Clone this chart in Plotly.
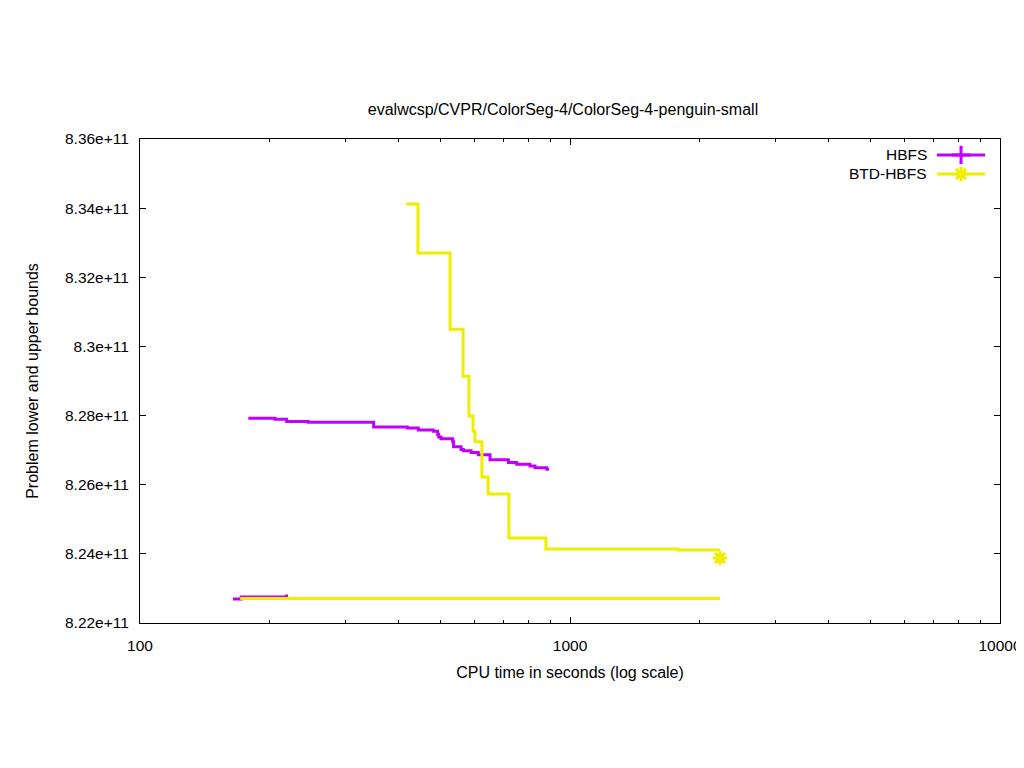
import plotly.graph_objects as go

# ---- data (values in units of 1e11) ----
hbfs_ub_t = [178.6, 206, 219.3, 246.3, 349.4, 418.4, 443.9, 481, 492.4, 495, 501, 533.6, 536,
             558, 565, 588.7, 612, 651.6, 719, 751.6, 807, 829, 883, 894]
hbfs_ub_v = [8.2792, 8.2789, 8.2783, 8.2781, 8.2767, 8.2764, 8.2758, 8.2755, 8.2745, 8.2738,
             8.2733, 8.2724, 8.2710, 8.2702, 8.2698, 8.2693, 8.2687, 8.2672, 8.2664, 8.2659,
             8.2654, 8.2649, 8.2645, 8.2645]
hbfs_lb_t = [164.5, 172, 219, 221]
hbfs_lb_v = [8.22694, 8.22752, 8.2278, 8.2278]

btd_ub_t = [415.6, 443, 526, 564, 582, 595, 601, 624, 645, 721, 879, 1783, 2233]
btd_ub_v = [8.3412, 8.327, 8.305, 8.2914, 8.2799, 8.2755, 8.2724, 8.2622, 8.2573, 8.2446,
            8.2414, 8.2411, 8.2411]
btd_lb_t = [171, 2233]
btd_lb_v = [8.22709, 8.22709]
btd_final_t = [2233]
btd_final_v = [8.2388]

y_tick_vals = [8.22, 8.24, 8.26, 8.28, 8.30, 8.32, 8.34, 8.36]
y_tick_text = ["8.22e+11", "8.24e+11", "8.26e+11", "8.28e+11", "8.3e+11", "8.32e+11", "8.34e+11", "8.36e+11"]
x_tick_vals = [100, 1000, 10000]
x_tick_text = ["100", "1000", "10000"]
x_minor_vals = [200, 300, 400, 500, 600, 700, 800, 900, 2000, 3000, 4000, 5000, 6000, 7000, 8000, 9000]

title = "evalwcsp/CVPR/ColorSeg-4/ColorSeg-4-penguin-small"
series_names = ["HBFS", "BTD-HBFS"]

PURPLE = "#c000ff"
YELLOW = "#eeee00"
FONT = "Liberation Sans, Arial, sans-serif"
TICKSIZE = 15.5
TITLESIZE = 16

# the page body has an 8px margin, so the figure is placed at (8, 8)
W, H = 1016, 752

def sc(v):
    return [x * 1e11 for x in v]

fig = go.Figure()
fig.add_trace(go.Scatter(x=hbfs_ub_t, y=sc(hbfs_ub_v), mode="lines", line=dict(color=PURPLE, width=3, shape="hv"), showlegend=False))
fig.add_trace(go.Scatter(x=hbfs_lb_t, y=sc(hbfs_lb_v), mode="lines", line=dict(color=PURPLE, width=3, shape="hv"), showlegend=False))
fig.add_trace(go.Scatter(x=btd_ub_t, y=sc(btd_ub_v), mode="lines", line=dict(color=YELLOW, width=3, shape="hv"), showlegend=False))
fig.add_trace(go.Scatter(x=btd_lb_t, y=sc(btd_lb_v), mode="lines", line=dict(color=YELLOW, width=3, shape="hv"), showlegend=False))
fig.add_trace(go.Scatter(x=btd_final_t, y=sc(btd_final_v), mode="markers",
                         marker=dict(symbol="asterisk-open", size=12, color=YELLOW, line=dict(color=YELLOW, width=3)),
                         showlegend=False))

# custom gnuplot-style legend (text left of sample) on an overlay paper axis
leg_y = [0.967, 0.9277]
leg_colors = [PURPLE, YELLOW]
leg_symbols = ["cross-thin-open", "asterisk-open"]
leg_sizes = [13, 12]
for name, ly, col, sym, sz in zip(series_names, leg_y, leg_colors, leg_symbols, leg_sizes):
    fig.add_trace(go.Scatter(x=[0.9267, 0.9826], y=[ly, ly], mode="lines", line=dict(color=col, width=3),
                             xaxis="x2", yaxis="y2", showlegend=False, hoverinfo="skip"))
    fig.add_trace(go.Scatter(x=[0.9547], y=[ly], mode="markers",
                             marker=dict(symbol=sym, size=sz, color=col, line=dict(color=col, width=3)),
                             xaxis="x2", yaxis="y2", showlegend=False, hoverinfo="skip"))
    fig.add_annotation(x=0.9175, y=ly, xref="paper", yref="paper", text=name, showarrow=False,
                       xanchor="right", yanchor="middle", font=dict(family=FONT, size=TICKSIZE, color="black"))

fig.update_layout(
    width=W, height=H,
    margin=dict(l=132, r=24, t=131, b=137, autoexpand=False),
    paper_bgcolor="white", plot_bgcolor="white",
    font=dict(family=FONT, size=TICKSIZE, color="black"),
    title=dict(text=title, x=(563 - 8) / W, xanchor="center", y=1 - (109 - 8) / H, yanchor="middle",
               font=dict(family=FONT, size=TITLESIZE, color="black")),
    showlegend=False,
    xaxis=dict(type="log", range=[2, 4], tickvals=x_tick_vals, ticktext=x_tick_text,
               ticks="inside", ticklen=6, tickwidth=1, tickcolor="black", ticklabelstandoff=8,
               ticklabeloverflow="allow",
               showline=True, linecolor="black", linewidth=1, mirror="allticks",
               showgrid=False, zeroline=False, automargin=False,
               minor=dict(tickvals=x_minor_vals, ticks="inside", ticklen=3, tickcolor="black", showgrid=False),
               title=dict(text="CPU time in seconds (log scale)", standoff=14, font=dict(family=FONT, size=TITLESIZE))),
    yaxis=dict(range=[8.22e11, 8.36e11], tickvals=sc(y_tick_vals), ticktext=y_tick_text,
               ticks="inside", ticklen=6, tickwidth=1, tickcolor="black", ticklabelstandoff=7,
               showline=True, linecolor="black", linewidth=1, mirror="allticks",
               showgrid=False, zeroline=False, automargin=False,
               title=dict(text="Problem lower and upper bounds", standoff=22, font=dict(family=FONT, size=TITLESIZE))),
    xaxis2=dict(range=[0, 1], overlaying="x", visible=False, domain=[0, 1], anchor="y2"),
    yaxis2=dict(range=[0, 1], overlaying="y", visible=False, anchor="x2"),
)

fig.write_html("out.html")
